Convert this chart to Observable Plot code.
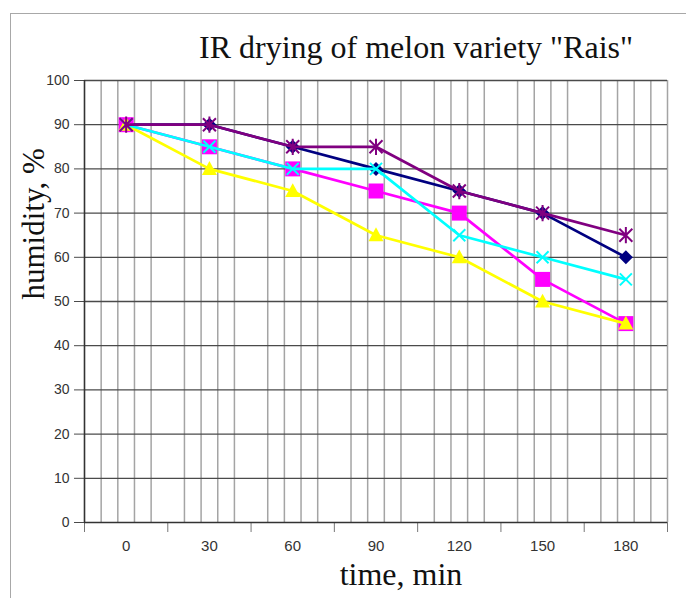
<!DOCTYPE html>
<html>
<head>
<meta charset="utf-8">
<script src="https://cdn.jsdelivr.net/npm/d3@7"></script>
<script src="https://cdn.jsdelivr.net/npm/@observablehq/plot@0.6"></script>
<style>
  html, body { margin: 0; padding: 0; background: #fff; }
  #wrap { position: relative; width: 686px; height: 598px; overflow: hidden; }
  #border { position: absolute; left: 10px; top: 13px; right: -5px; bottom: -5px;
            border-left: 1.5px solid #a8a8a8; border-top: 1.5px solid #a8a8a8; }
  #chart { position: absolute; left: 0; top: 0; }
</style>
</head>
<body>
<div id="wrap"><div id="border"></div><div id="chart"></div></div>
<script>
// ---- data ----
const times = [0, 30, 60, 90, 120, 150, 180];
const seriesNavy    = [90, 90, 85, 80, 75, 70, 60];   // diamonds
const seriesMagenta = [90, 85, 80, 75, 70, 55, 45];   // squares
const seriesYellow  = [90, 80, 75, 65, 60, 50, 45];   // triangles
const seriesCyan    = [90, 85, 80, 80, 65, 60, 55];   // crosses
const seriesPurple  = [90, 90, 85, 85, 75, 70, 65];   // asterisks
const yTicks = [0, 10, 20, 30, 40, 50, 60, 70, 80, 90, 100];
const titleText = "IR drying of melon variety \"Rais\"";
const yLabel = "humidity, %";
const xLabel = "time, min";

// category bands: each category centred on its value, band = 30 units
const bandBounds = d3.range(-15, 196, 30);
const minorGrid = d3.range(-15, 196, 6).filter(v => ((v + 15) % 30) !== 0 || v === 195);

// ---- custom symbols (r = sqrt(size/pi)) ----
const rad = s => Math.sqrt(s / Math.PI);
const diamondSym = { draw(c, s) { const r = rad(s); c.moveTo(0, -r); c.lineTo(r, 0); c.lineTo(0, r); c.lineTo(-r, 0); c.closePath(); } };
const squareSym  = { draw(c, s) { const r = rad(s); c.rect(-r, -r, 2 * r, 2 * r); } };
const triSym     = { draw(c, s) { const r = rad(s); c.moveTo(0, -r * 1.05); c.lineTo(r, r * 0.8); c.lineTo(-r, r * 0.8); c.closePath(); } };
const timesSym   = { draw(c, s) { const r = rad(s); c.moveTo(-r, -r); c.lineTo(r, r); c.moveTo(-r, r); c.lineTo(r, -r); } };
const asterSym   = { draw(c, s) { const r = rad(s); c.moveTo(-r, -r); c.lineTo(r, r); c.moveTo(-r, r); c.lineTo(r, -r); c.moveTo(0, -r * 1.25); c.lineTo(0, r * 1.25); } };

const toRows = vals => times.map((t, i) => ({ t, v: vals[i] }));

const series = [
  { vals: seriesNavy,    color: "#000080", sym: diamondSym, r: 7,   filled: true },
  { vals: seriesMagenta, color: "#ff00ff", sym: squareSym,  r: 7.5, filled: true },
  { vals: seriesYellow,  color: "#ffff00", sym: triSym,     r: 7.5, filled: true },
  { vals: seriesCyan,    color: "#00ffff", sym: timesSym,   r: 6,   filled: false },
  { vals: seriesPurple,  color: "#800080", sym: asterSym,   r: 6.5, filled: false }
];

const seriesMarks = series.flatMap(s => {
  const rows = toRows(s.vals);
  return [
    Plot.line(rows, { x: "t", y: "v", stroke: s.color, strokeWidth: 2.7 }),
    Plot.dot(rows, s.filled
      ? { x: "t", y: "v", symbol: () => s.sym, r: s.r, fill: s.color, stroke: "none" }
      : { x: "t", y: "v", symbol: () => s.sym, r: s.r, fill: "none", stroke: s.color, strokeWidth: 2 })
  ];
});

const chart = Plot.plot({
  width: 686,
  height: 598,
  marginLeft: 84,
  marginRight: 19,
  marginTop: 80,
  marginBottom: 76,
  style: { background: "transparent", overflow: "visible" },
  x: { type: "linear", domain: [-15, 195] },
  y: { domain: [0, 100] },
  symbol: { type: "identity" },
  marks: [
    Plot.ruleX(minorGrid, { stroke: "#a4a4a4", strokeWidth: 1.5 }),
    Plot.ruleY(yTicks.filter(v => v > 0), { stroke: "#4a4a4a", strokeWidth: 1.3 }),
    Plot.axisY({ ticks: yTicks, tickSize: 10, tickPadding: 5, stroke: "#4a4a4a", fill: "#333",
                 fontSize: 14, fontFamily: "Liberation Sans, Arial, sans-serif", label: null }),
    Plot.axisX({ ticks: bandBounds, tickSize: 10, tickFormat: () => "", stroke: "#777", label: null }),
    Plot.axisX({ ticks: times, tickSize: 0, tickPadding: 18, fill: "#333", tickFormat: d => String(d),
                 fontSize: 15, fontFamily: "Liberation Sans, Arial, sans-serif", label: null }),
    Plot.ruleX([-15], { stroke: "#333", strokeWidth: 1.6 }),
    Plot.ruleY([0], { stroke: "#333", strokeWidth: 1.6 }),
    ...seriesMarks,
    Plot.text([titleText], { frameAnchor: "top", dx: 40, dy: -23, lineAnchor: "bottom",
                             fontSize: 32, fontFamily: "Liberation Serif, Times New Roman, serif", fill: "#111" }),
    Plot.text([yLabel], { frameAnchor: "left", rotate: -90, dx: -41, dy: -2, lineAnchor: "bottom",
                          fontSize: 31, fontFamily: "Liberation Serif, Times New Roman, serif", fill: "#111" }),
    Plot.text([xLabel], { frameAnchor: "bottom", dx: 25, dy: 62, lineAnchor: "bottom",
                          fontSize: 32, fontFamily: "Liberation Serif, Times New Roman, serif", fill: "#111" })
  ]
});
document.getElementById("chart").appendChild(chart);
</script>
</body>
</html>
